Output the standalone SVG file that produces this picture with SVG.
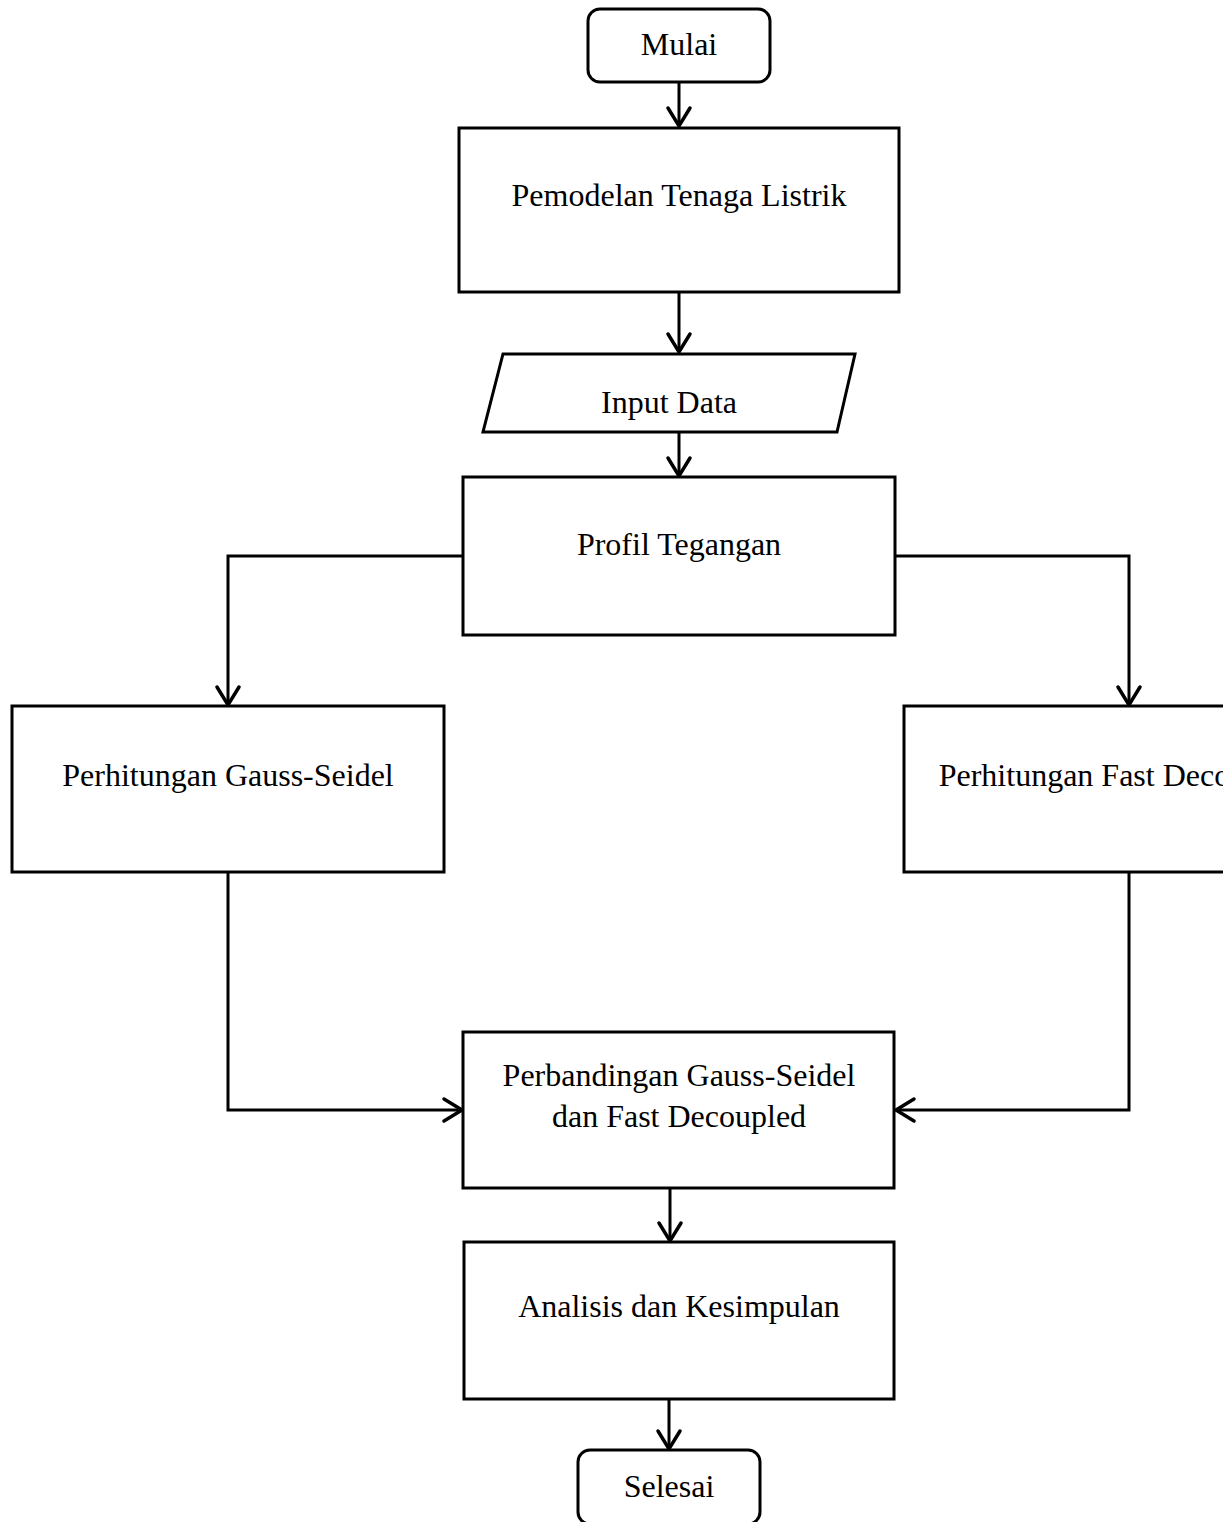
<svg xmlns="http://www.w3.org/2000/svg" width="1223" height="1522" viewBox="0 0 1223 1522">
<style>
.box{fill:#fff;stroke:#000;stroke-width:3;stroke-linejoin:miter}
.lbl{font-family:"Liberation Serif","Times New Roman",serif;font-size:32px;fill:#000;text-anchor:middle}
.con{fill:none;stroke:#000;stroke-width:3;stroke-linejoin:miter}
</style>
<defs>
<marker id="arr" markerUnits="userSpaceOnUse" viewBox="-22 -14 26 28" markerWidth="26" markerHeight="28" refX="0" refY="0" orient="auto" overflow="visible">
<path d="M-18,-11 L0,0 L-18,11" fill="none" stroke="#000" stroke-width="3.5" stroke-linecap="round" stroke-linejoin="miter"/>
</marker>
</defs>
<rect width="1223" height="1522" fill="#fff"/>
<g id="connectors">
<path class="con" d="M679,82 L679,126" marker-end="url(#arr)"/>
<path class="con" d="M679,292 L679,352" marker-end="url(#arr)"/>
<path class="con" d="M679,431 L679,476" marker-end="url(#arr)"/>
<path class="con" d="M463,556 L228,556 L228,705" marker-end="url(#arr)"/>
<path class="con" d="M895,556 L1129,556 L1129,705" marker-end="url(#arr)"/>
<path class="con" d="M228,872 L228,1110 L462,1110" marker-end="url(#arr)"/>
<path class="con" d="M1129,872 L1129,1110 L896,1110" marker-end="url(#arr)"/>
<path class="con" d="M670,1188 L670,1241" marker-end="url(#arr)"/>
<path class="con" d="M669,1399 L669,1449" marker-end="url(#arr)"/>
</g>
<g id="mulai">
<rect class="box" x="588" y="9" width="182" height="73" rx="12" ry="12"/>
<text class="lbl" x="679" y="55">Mulai</text>
</g>
<g id="pemodelan">
<rect class="box" x="459" y="128" width="440" height="164"/>
<text class="lbl" x="679" y="206">Pemodelan Tenaga Listrik</text>
</g>
<g id="input">
<polygon class="box" points="503,354 855,354 837,432 483,432"/>
<text class="lbl" x="669" y="413">Input Data</text>
</g>
<g id="profil">
<rect class="box" x="463" y="477" width="432" height="158"/>
<text class="lbl" x="679" y="555">Profil Tegangan</text>
</g>
<g id="gauss">
<rect class="box" x="12" y="706" width="432" height="166"/>
<text class="lbl" x="228" y="786">Perhitungan Gauss-Seidel</text>
</g>
<g id="fast">
<rect class="box" x="904" y="706" width="432" height="166"/>
<text class="lbl" x="1120" y="786">Perhitungan Fast Decoupled</text>
</g>
<g id="perbandingan">
<rect class="box" x="463" y="1032" width="431" height="156"/>
<text class="lbl" x="679" y="1086">Perbandingan Gauss-Seidel</text>
<text class="lbl" x="679" y="1127">dan Fast Decoupled</text>
</g>
<g id="analisis">
<rect class="box" x="464" y="1242" width="430" height="157"/>
<text class="lbl" x="679" y="1317">Analisis dan Kesimpulan</text>
</g>
<g id="selesai">
<rect class="box" x="578" y="1450" width="182" height="74" rx="12" ry="12"/>
<text class="lbl" x="669" y="1497">Selesai</text>
</g>
</svg>
